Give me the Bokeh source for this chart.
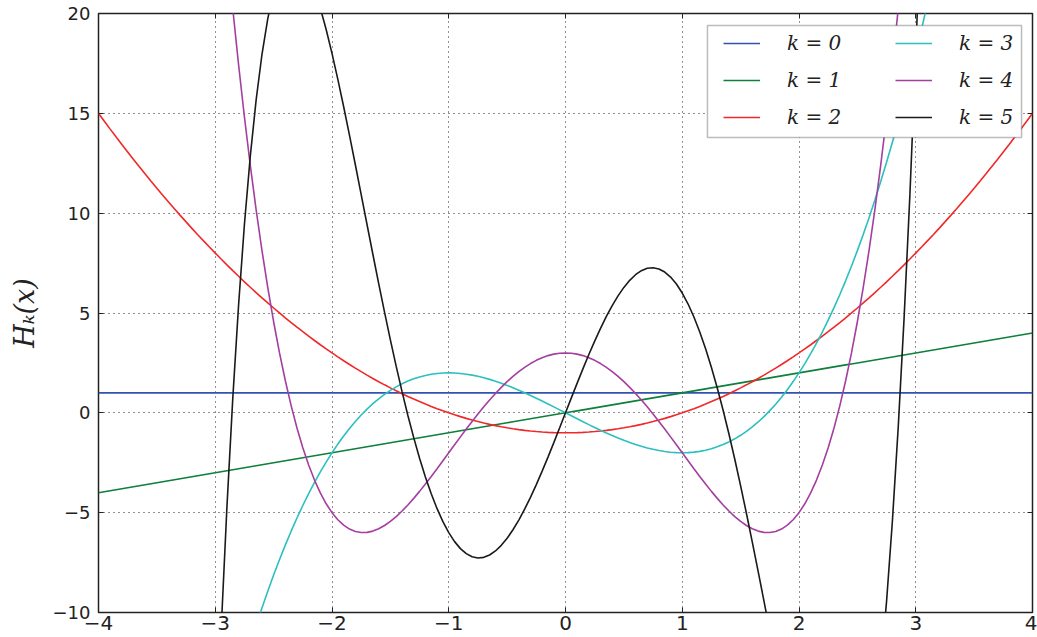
import numpy as np
from bokeh.plotting import figure
from bokeh.models import Legend, LegendItem, FixedTicker, Range1d, LinearAxis, BoxAnnotation
from bokeh.embed import file_html
from bokeh.resources import INLINE

# Hermite (probabilists') polynomial coefficients, highest power first
coeffs = {
    0: [1],
    1: [1, 0],
    2: [1, 0, -1],
    3: [1, 0, -3, 0],
    4: [1, 0, -6, 0, 3],
    5: [1, 0, -10, 0, 15, 0],
}
labels = ["k = 0", "k = 1", "k = 2", "k = 3", "k = 4", "k = 5"]
colors = ["#3452b0", "#0e7f3c", "#f02828", "#2cbfbf", "#a43ea0", "#1a1a1a"]
x_ticks = [-4, -3, -2, -1, 0, 1, 2, 3, 4]
y_ticks = [-10, -5, 0, 5, 10, 15, 20]

x = np.linspace(-4, 4, 161)

p = figure(width=1037, height=637, output_backend="svg", toolbar_location=None,
           x_range=Range1d(-4, 4), y_range=Range1d(-10, 20),
           min_border_left=98, min_border_right=5, min_border_top=13, min_border_bottom=25)
p.background_fill_color = "white"
p.border_fill_color = "white"
p.outline_line_color = "#222222"
p.outline_line_width = 1.5

items = []
for k in range(6):
    y = np.polyval(coeffs[k], x)
    r = p.line(x, y, line_color=colors[k], line_width=1.6)
    items.append(LegendItem(label=labels[k], renderers=[r]))

def minus(v):
    return str(v).replace("-", "\u2212")

# extra tick-only axes on top and right (matplotlib-style ticks on all sides)
top = LinearAxis(ticker=FixedTicker(ticks=x_ticks))
right = LinearAxis(ticker=FixedTicker(ticks=y_ticks))
p.add_layout(top, "above")
p.add_layout(right, "right")
for ax in (top, right):
    ax.major_label_text_font_size = "1px"
    ax.major_label_text_alpha = 0
    ax.major_label_standoff = 0

p.xaxis.ticker = FixedTicker(ticks=x_ticks)
p.yaxis.ticker = FixedTicker(ticks=y_ticks)
p.below[0].major_label_overrides = {v: minus(v) for v in x_ticks}
p.left[0].major_label_overrides = {v: minus(v) for v in y_ticks}
for ax in p.xaxis + p.yaxis:
    ax.axis_line_color = None
    ax.major_tick_in = 5
    ax.major_tick_out = 0
    ax.minor_tick_line_color = None
    ax.major_tick_line_color = "#222222"
    ax.major_tick_line_width = 1
p.below[0].major_label_text_font = "DejaVu Sans"
p.below[0].major_label_text_font_size = "20px"
p.below[0].major_label_text_color = "#222222"
p.below[0].major_label_standoff = 3
p.left[0].major_label_text_font = "DejaVu Sans"
p.left[0].major_label_text_font_size = "18px"
p.left[0].major_label_text_color = "#222222"
p.left[0].major_label_standoff = 8

p.left[0].axis_label = "H\u2096(x)"
p.left[0].axis_label_text_font = "DejaVu Serif"
p.left[0].axis_label_text_font_style = "italic"
p.left[0].axis_label_text_font_size = "27px"
p.left[0].axis_label_text_color = "#222222"
p.left[0].axis_label_standoff = 10

p.xgrid.grid_line_color = "#222222"
p.ygrid.grid_line_color = "#222222"
p.xgrid.grid_line_dash = "1 4"
p.ygrid.grid_line_dash = "1 4"
p.xgrid.grid_line_width = 1
p.ygrid.grid_line_width = 1

# legend frame (in data units) behind two borderless legend columns
box = BoxAnnotation(left=1.216, right=3.906, top=19.40, bottom=13.79,
                    fill_color="white", fill_alpha=1.0,
                    line_color="#222222", line_width=1.5, level="annotation")
p.add_layout(box)

for col, (lo, hi, locx) in enumerate([(0, 3, 625), (3, 6, 797)]):
    lg = Legend(items=items[lo:hi], location=(locx, 483))
    lg.label_text_font = "DejaVu Serif"
    lg.label_text_font_style = "italic"
    lg.label_text_font_size = "20px"
    lg.label_text_color = "#222222"
    lg.border_line_color = None
    lg.background_fill_alpha = 0
    lg.glyph_width = 37
    lg.glyph_height = 20
    lg.label_standoff = 27
    lg.spacing = 13
    lg.padding = 0
    lg.margin = 0
    p.add_layout(lg)

open("out.html", "w").write(file_html(p, INLINE))
